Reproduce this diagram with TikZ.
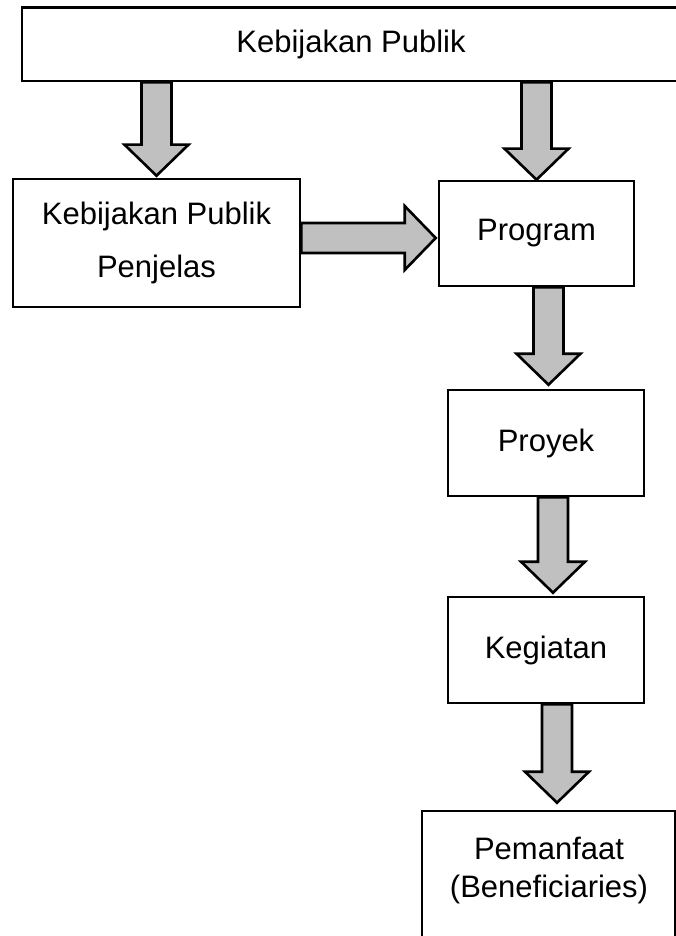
\documentclass[tikz,border=0pt]{standalone}
\usepackage{fontspec}
\setmainfont{Liberation Sans}
\usetikzlibrary{calc}
\definecolor{arrowgray}{HTML}{C0C0C0}
\tikzset{
  box/.style={draw=black, line width=2.6pt, fill=white, inner sep=0pt, align=center,
    font=\fontsize{31}{53}\selectfont},
  barrow/.style={draw=black, line width=2.6pt, fill=arrowgray, line join=miter},
  plaintext/.style={inner sep=0pt, align=center, font=\fontsize{31}{38}\selectfont}
}
\newcommand\blockarrow[2]{%
  \path ($(#2)!31pt!(#1)$) coordinate (hb);
  \draw[barrow] ($(#1)!15pt!90:(#2)$) -- ($(hb)!15pt!90:(#2)$) -- ($(hb)!32pt!90:(#2)$)
    -- (#2) -- ($(hb)!32pt!-90:(#2)$) -- ($(hb)!15pt!-90:(#2)$) -- ($(#1)!15pt!-90:(#2)$) -- cycle;}
\begin{document}
\begin{tikzpicture}[x=1pt, y=-1pt]
\useasboundingbox (0,0) rectangle (675,936);
\fill[white] (0,0) rectangle (675,936);
% boxes
\node[box, minimum width=658, minimum height=73.5] (top) at (351,44.25) {Kebijakan Publik};
\node[box, minimum width=287, minimum height=128] (kpp) at (156.5,243) {Kebijakan Publik\\Penjelas};
\node[box, minimum width=195, minimum height=105] (prog) at (536.5,233.5) {Program};
\node[box, minimum width=196, minimum height=106] (proyek) at (546,443) {Proyek};
\node[box, minimum width=196, minimum height=106] (keg) at (546,650) {Kegiatan};
\node[box, minimum width=253, minimum height=134] (pem) at (548.5,878) {};
\node[plaintext] (pemtext) at ($(pem.north)+(0.5,61)$) {Pemanfaat\\(Beneficiaries)};
% connector end points
\coordinate (s1) at (kpp.north |- top.south);
\coordinate (t1) at ($(kpp.north)+(0,-2)$);
\coordinate (s2) at (prog.north |- top.south);
\coordinate (t2) at (prog.north);
\coordinate (s3) at ($(prog.south)+(12,0)$);
\coordinate (t3) at ($(proyek.north)+(2.5,-4)$);
\coordinate (s4) at ($(proyek.south)+(7,0)$);
\coordinate (t4) at ($(keg.north)+(7,-3)$);
\coordinate (s5) at ($(keg.south)+(11,0)$);
\coordinate (t5) at ($(pem.north)+(8.5,-7)$);
\coordinate (s6) at ($(kpp.east)+(0,-5)$);
\coordinate (t6) at ($(prog.west)+(-2,4.5)$);
% block arrows
\blockarrow{s1}{t1}
\blockarrow{s2}{t2}
\blockarrow{s3}{t3}
\blockarrow{s4}{t4}
\blockarrow{s5}{t5}
\blockarrow{s6}{t6}
\end{tikzpicture}
\end{document}
